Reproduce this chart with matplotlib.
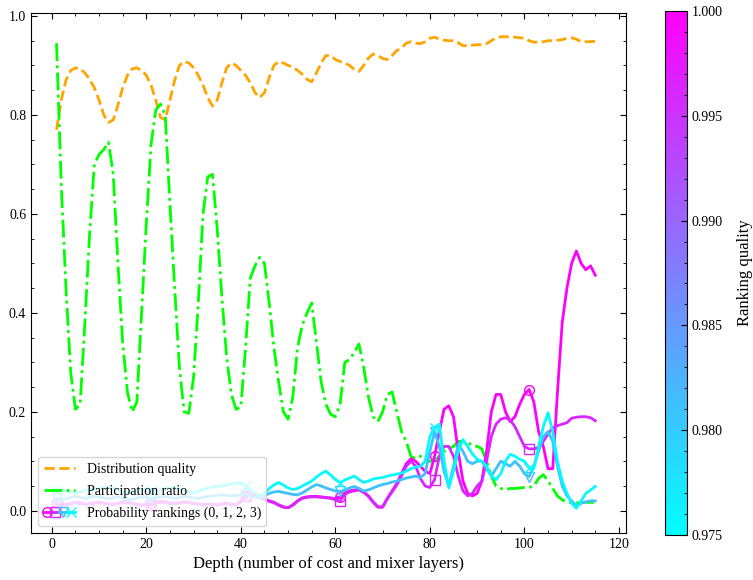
import numpy as np
import matplotlib
matplotlib.use("Agg")
import matplotlib.pyplot as plt
from matplotlib.legend_handler import HandlerTuple
from matplotlib.lines import Line2D
from matplotlib.cm import ScalarMappable
from matplotlib.colors import Normalize

# depth = number of cost and mixer layers
depth = np.arange(1, 116)

dist_quality = [
    0.77, 0.83, 0.87, 0.89, 0.895, 0.893, 0.885, 0.872, 0.855, 0.83,
    0.80, 0.785, 0.79, 0.82, 0.855, 0.88, 0.893, 0.895, 0.89, 0.88,
    0.86, 0.83, 0.795, 0.79, 0.83, 0.87, 0.90, 0.908, 0.905, 0.895,
    0.88, 0.86, 0.835, 0.818, 0.83, 0.865, 0.895, 0.905, 0.90, 0.89,
    0.88, 0.865, 0.845, 0.835, 0.845, 0.875, 0.90, 0.908, 0.905, 0.90,
    0.897, 0.89, 0.882, 0.872, 0.867, 0.885, 0.905, 0.92, 0.92, 0.912,
    0.908, 0.905, 0.90, 0.892, 0.888, 0.90, 0.915, 0.923, 0.92, 0.914,
    0.912, 0.92, 0.93, 0.935, 0.945, 0.948, 0.945, 0.944, 0.948, 0.955,
    0.957, 0.953, 0.951, 0.95, 0.95, 0.946, 0.94, 0.94, 0.941, 0.942,
    0.942, 0.944, 0.95, 0.956, 0.958, 0.958, 0.958, 0.957, 0.956, 0.955,
    0.95, 0.947, 0.947, 0.948, 0.95, 0.95, 0.951, 0.952, 0.955, 0.956,
    0.953, 0.948, 0.948, 0.948, 0.949,
]

participation = [
    0.945, 0.66, 0.45, 0.28, 0.205, 0.215, 0.38, 0.56, 0.70, 0.72,
    0.73, 0.745, 0.68, 0.50, 0.34, 0.24, 0.20, 0.22, 0.40, 0.58,
    0.74, 0.81, 0.822, 0.80, 0.62, 0.45, 0.29, 0.20, 0.197, 0.27,
    0.42, 0.60, 0.675, 0.68, 0.57, 0.43, 0.31, 0.235, 0.205, 0.21,
    0.33, 0.47, 0.495, 0.512, 0.50, 0.42, 0.33, 0.26, 0.20, 0.185,
    0.23, 0.33, 0.375, 0.40, 0.42, 0.34, 0.26, 0.215, 0.195, 0.19,
    0.215, 0.30, 0.305, 0.32, 0.337, 0.29, 0.23, 0.19, 0.18, 0.20,
    0.235, 0.24, 0.20, 0.16, 0.14, 0.11, 0.105, 0.11, 0.105, 0.10,
    0.10, 0.11, 0.12, 0.125, 0.13, 0.14, 0.14, 0.138, 0.132, 0.13,
    0.125, 0.10, 0.07, 0.05, 0.045, 0.043, 0.045, 0.045, 0.046, 0.047,
    0.047, 0.05, 0.065, 0.073, 0.06, 0.045, 0.03, 0.022, 0.018, 0.016,
    0.016, 0.016, 0.017, 0.017, 0.017,
]

rank0 = [
    0.015, 0.013, 0.012, 0.014, 0.016, 0.015, 0.013, 0.014, 0.016, 0.017,
    0.016, 0.014, 0.013, 0.015, 0.018, 0.017, 0.015, 0.013, 0.012, 0.013,
    0.015, 0.017, 0.019, 0.018, 0.016, 0.015, 0.016, 0.018, 0.017, 0.015,
    0.014, 0.013, 0.014, 0.013, 0.012, 0.014, 0.015, 0.013, 0.012, 0.02,
    0.03, 0.032, 0.03, 0.027, 0.024, 0.02, 0.017, 0.012, 0.008, 0.006,
    0.012, 0.02, 0.026, 0.028, 0.029, 0.029, 0.028, 0.027, 0.026, 0.024,
    0.027, 0.036, 0.04, 0.042, 0.043, 0.038, 0.03, 0.018, 0.008, 0.008,
    0.025, 0.04, 0.055, 0.075, 0.095, 0.105, 0.10, 0.09, 0.08, 0.075,
    0.11, 0.16, 0.205, 0.212, 0.19, 0.12, 0.06, 0.035, 0.03, 0.035,
    0.06, 0.12, 0.20, 0.235, 0.235, 0.20, 0.18, 0.19, 0.215, 0.235,
    0.245, 0.22, 0.16, 0.13, 0.085, 0.085, 0.24, 0.38, 0.45, 0.50,
    0.525, 0.50, 0.487, 0.495, 0.476,
]

rank1 = [
    0.012, 0.012, 0.013, 0.015, 0.017, 0.016, 0.014, 0.013, 0.015, 0.016,
    0.015, 0.013, 0.012, 0.014, 0.016, 0.016, 0.014, 0.012, 0.011, 0.012,
    0.012, 0.015, 0.017, 0.016, 0.015, 0.014, 0.015, 0.017, 0.016, 0.014,
    0.013, 0.012, 0.013, 0.012, 0.011, 0.013, 0.014, 0.012, 0.011, 0.018,
    0.03, 0.031, 0.029, 0.026, 0.023, 0.019, 0.016, 0.011, 0.007, 0.006,
    0.011, 0.019, 0.025, 0.027, 0.028, 0.028, 0.027, 0.026, 0.025, 0.022,
    0.019, 0.033, 0.038, 0.04, 0.042, 0.037, 0.029, 0.017, 0.007, 0.007,
    0.024, 0.038, 0.052, 0.07, 0.09, 0.10, 0.09, 0.065, 0.05, 0.047,
    0.063, 0.11, 0.13, 0.13, 0.11, 0.07, 0.04, 0.03, 0.035, 0.05,
    0.06, 0.10, 0.15, 0.175, 0.185, 0.188, 0.183, 0.17, 0.15, 0.13,
    0.125, 0.125, 0.128, 0.14, 0.155, 0.168, 0.172, 0.175, 0.178, 0.187,
    0.189, 0.19, 0.19, 0.188, 0.182,
]

rank2 = [
    0.025, 0.022, 0.024, 0.027, 0.029, 0.027, 0.025, 0.027, 0.029, 0.028,
    0.026, 0.024, 0.026, 0.028, 0.025, 0.022, 0.023, 0.026, 0.028, 0.027,
    0.025, 0.026, 0.028, 0.029, 0.027, 0.025, 0.027, 0.029, 0.028, 0.026,
    0.025, 0.027, 0.029, 0.03, 0.031, 0.032, 0.031, 0.03, 0.031, 0.032,
    0.034, 0.03, 0.027, 0.026, 0.03, 0.035, 0.038, 0.039, 0.037, 0.035,
    0.033, 0.032, 0.036, 0.042, 0.048, 0.053, 0.05, 0.046, 0.043, 0.04,
    0.039, 0.042, 0.046, 0.049, 0.045, 0.04, 0.042, 0.046, 0.05, 0.053,
    0.055, 0.058, 0.06, 0.063, 0.066, 0.068, 0.07, 0.067, 0.075, 0.12,
    0.16, 0.13, 0.08, 0.05, 0.09, 0.135, 0.12, 0.10, 0.095, 0.10,
    0.10, 0.085, 0.07, 0.085, 0.10, 0.095, 0.09, 0.10, 0.09, 0.075,
    0.069, 0.09, 0.12, 0.15, 0.16, 0.14, 0.09, 0.05, 0.03, 0.02,
    0.01, 0.015, 0.018, 0.02, 0.02,
]

rank3 = [
    0.04, 0.043, 0.04, 0.037, 0.036, 0.038, 0.041, 0.043, 0.043, 0.045,
    0.047, 0.046, 0.046, 0.042, 0.038, 0.036, 0.038, 0.041, 0.043, 0.043,
    0.041, 0.039, 0.042, 0.045, 0.046, 0.046, 0.045, 0.041, 0.037, 0.036,
    0.039, 0.043, 0.046, 0.048, 0.049, 0.05, 0.052, 0.054, 0.056, 0.056,
    0.05, 0.043, 0.036, 0.03, 0.035, 0.045, 0.052, 0.057, 0.052, 0.046,
    0.043, 0.045, 0.05, 0.055, 0.06, 0.068, 0.075, 0.08, 0.072, 0.063,
    0.057, 0.062, 0.066, 0.07, 0.063, 0.057, 0.06, 0.064, 0.066, 0.067,
    0.07, 0.072, 0.074, 0.076, 0.08, 0.085, 0.088, 0.09, 0.10, 0.15,
    0.168, 0.175, 0.10, 0.046, 0.08, 0.12, 0.144, 0.13, 0.115, 0.104,
    0.10, 0.09, 0.07, 0.063, 0.075, 0.10, 0.114, 0.11, 0.104, 0.10,
    0.087, 0.085, 0.13, 0.17, 0.198, 0.16, 0.10, 0.06, 0.035, 0.015,
    0.005, 0.02, 0.035, 0.042, 0.049,
]

rankings = [rank0, rank1, rank2, rank3]
ranking_quality = [1.0, 0.9962, 0.9810, 0.9755]
ranking_markers = ['o', 's', 'v', 'x']

plt.rcParams['font.family'] = ['Liberation Serif', 'DejaVu Serif']
plt.rcParams['font.size'] = 11
plt.rcParams['xtick.direction'] = 'in'
plt.rcParams['ytick.direction'] = 'in'
plt.rcParams['xtick.top'] = True
plt.rcParams['ytick.right'] = True
plt.rcParams['xtick.major.size'] = 4
plt.rcParams['ytick.major.size'] = 4
plt.rcParams['xtick.minor.size'] = 2.5
plt.rcParams['ytick.minor.size'] = 2.5
plt.rcParams['xtick.minor.visible'] = True
plt.rcParams['ytick.minor.visible'] = True

fig = plt.figure(figsize=(7.53, 5.8), dpi=100)
# pixel box of the reference: x 31..626, y 13..533
ax = fig.add_axes([31 / 753, 47 / 580, 595 / 753, 520 / 580])
cax = fig.add_axes([665 / 753, 45 / 580, 22 / 753, 524 / 580])

norm = Normalize(vmin=0.975, vmax=1.0)
cmap = plt.get_cmap('cool')

ax.plot(depth, dist_quality, color='orange', ls='--', lw=2)
ax.plot(depth, participation, color='lime', ls='-.', lw=2)

for vals, q, m in zip(rankings, ranking_quality, ranking_markers):
    ax.plot(depth, vals, color=cmap(norm(q)), lw=2, marker=m, markevery=20,
            markersize=7, markerfacecolor='none', markeredgewidth=1)

ax.set_xlim(-4.4, 121.5)
ax.set_ylim(-0.045, 1.006)
ax.set_xlabel('Depth (number of cost and mixer layers)', fontsize=12)
ax.tick_params(labelsize=10)

h_dist = Line2D([], [], color='orange', ls='--', lw=2)
h_part = Line2D([], [], color='lime', ls='-.', lw=2)
h_rank = tuple(Line2D([], [], color=cmap(norm(q)), lw=2, marker=m, markersize=7,
                      markerfacecolor='none')
               for q, m in zip(ranking_quality, ranking_markers))
ax.legend([h_dist, h_part, h_rank],
          ['Distribution quality', 'Participation ratio', 'Probability rankings (0, 1, 2, 3)'],
          handler_map={tuple: HandlerTuple(ndivide=None, pad=0)},
          loc='lower left', fontsize=10, handlelength=2.3, labelspacing=0.65)

sm = ScalarMappable(norm=norm, cmap=cmap)
cbar = fig.colorbar(sm, cax=cax)
cbar.set_ticks([0.975, 0.980, 0.985, 0.990, 0.995, 1.000])
cbar.ax.minorticks_on()
cbar.ax.tick_params(labelsize=10, direction='in')
cbar.set_label('Ranking quality', fontsize=12, labelpad=10)

fig.savefig('out.png', dpi=100)
